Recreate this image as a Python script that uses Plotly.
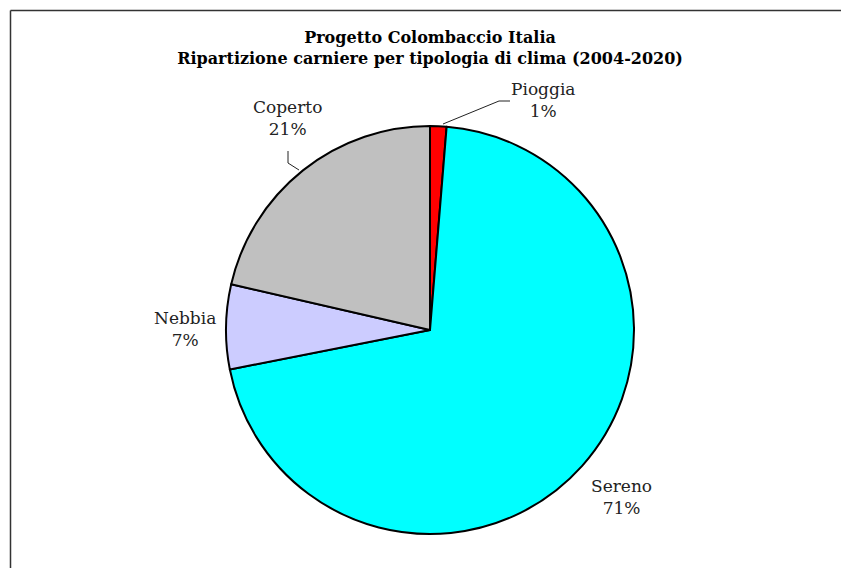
import plotly.graph_objects as go

# Dati: ripartizione carniere per tipologia di clima (quote in %)
labels = ["Pioggia", "Sereno", "Nebbia", "Coperto"]
values = [1.3, 70.6, 6.7, 21.4]
colors = ["#ff0000", "#00ffff", "#ccccff", "#c0c0c0"]

W, H = 841, 568
FONT = "DejaVu Serif"


def px(x):
    return x / W


def py(y):
    return 1 - y / H


total = sum(values)
percent = [round(v / total * 100) for v in values]

fig = go.Figure()

# Torta, centro (430, 330) raggio 204 px
fig.add_trace(go.Pie(
    labels=labels,
    values=values,
    sort=False,
    direction="clockwise",
    rotation=0,
    marker=dict(colors=colors, line=dict(color="black", width=2)),
    textinfo="none",
    hoverinfo="label+percent",
    showlegend=False,
    domain=dict(x=[px(226), px(634)], y=[py(534), py(126)]),
))

# Etichette esterne
label_pos = {
    "Pioggia": (543, 100),
    "Sereno": (621, 497),
    "Nebbia": (185, 329),
    "Coperto": (287, 118),
}
annotations = []
for name, pct in zip(labels, percent):
    x, y = label_pos[name]
    annotations.append(dict(
        x=px(x), y=py(y), xref="paper", yref="paper",
        xanchor="center", yanchor="middle",
        text=f"{name}<br>{pct}%", showarrow=False,
        font=dict(family=FONT, size=17, color="#222222"),
        align="center",
    ))

# Linee guida per Pioggia e Coperto
shapes = [
    dict(type="line", xref="paper", yref="paper",
         x0=px(443), y0=py(124), x1=px(499), y1=py(101),
         line=dict(color="#222222", width=1)),
    dict(type="line", xref="paper", yref="paper",
         x0=px(499), y0=py(101), x1=px(510), y1=py(101),
         line=dict(color="#222222", width=1)),
    dict(type="line", xref="paper", yref="paper",
         x0=px(288), y0=py(151), x1=px(288), y1=py(163),
         line=dict(color="#222222", width=1)),
    dict(type="line", xref="paper", yref="paper",
         x0=px(288), y0=py(163), x1=px(299), y1=py(170),
         line=dict(color="#222222", width=1)),
    # cornice (solo bordo superiore e sinistro visibili)
    dict(type="line", xref="paper", yref="paper",
         x0=px(10.5), y0=py(10.5), x1=px(841), y1=py(10.5),
         line=dict(color="#333333", width=1.5)),
    dict(type="line", xref="paper", yref="paper",
         x0=px(10.5), y0=py(10.5), x1=px(10.5), y1=py(568),
         line=dict(color="#333333", width=1.5)),
]

fig.update_layout(
    width=W, height=H,
    margin=dict(l=0, r=0, t=0, b=0),
    paper_bgcolor="white",
    plot_bgcolor="white",
    title=dict(
        text="<b>Progetto Colombaccio Italia<br>Ripartizione carniere per tipologia di clima (2004-2020)</b>",
        x=px(430), xanchor="center", y=py(43), yanchor="top",
        font=dict(family=FONT, size=16, color="black"),
    ),
    annotations=annotations,
    shapes=shapes,
)

fig.write_html("out.html", config={"displayModeBar": False},
               post_script="document.body.style.margin='0';")
